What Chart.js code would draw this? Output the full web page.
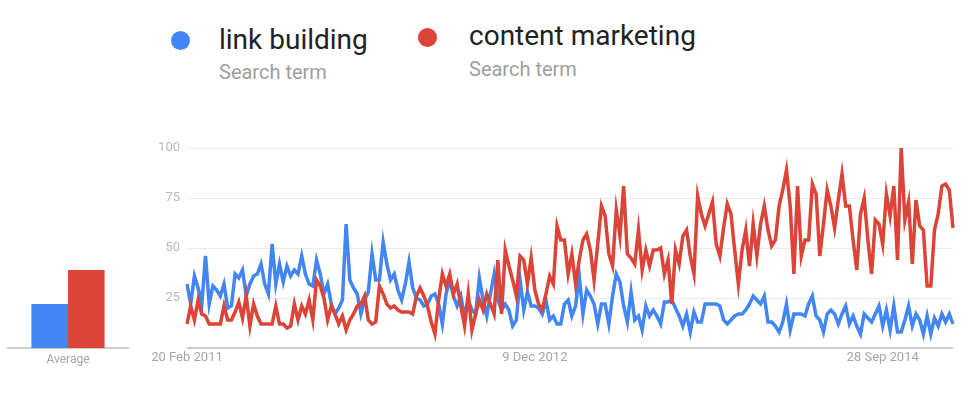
<!DOCTYPE html>
<html>
<head>
<meta charset="utf-8">
<script src="https://cdn.jsdelivr.net/npm/chart.js@4.4.0/dist/chart.umd.min.js"></script>
<style>
  body{margin:0;background:#fff;width:980px;height:396px;overflow:hidden;position:relative;font-family:Roboto,Arial,sans-serif}
  .dot{position:absolute;width:19px;height:19px;border-radius:50%}
  .term{position:absolute;font-size:28px;color:#222;white-space:nowrap;line-height:1}
  .sub{position:absolute;font-size:20px;color:#9e9e9e;white-space:nowrap;line-height:1}
  canvas{position:absolute}
</style>
</head>
<body>
<div class="dot" style="left:171px;top:31px;background:#4285f4"></div>
<div class="term" style="left:219px;top:26px">link building</div>
<div class="sub" style="left:219px;top:62px">Search term</div>
<div class="dot" style="left:418px;top:28px;background:#db4437"></div>
<div class="term" style="left:469px;top:22px">content marketing</div>
<div class="sub" style="left:469px;top:59px">Search term</div>

<canvas id="avg" width="140" height="240" style="left:0;top:130px"></canvas>
<canvas id="trend" width="815" height="240" style="left:140px;top:130px"></canvas>

<script>
// ----- Datos (semanal, 20 Feb 2011 en adelante) -----
const tickLabels = ['20 Feb 2011', '9 Dec 2012', '28 Sep 2014'];
const tickIndex = [0, 94, 188];
const yTicks = [0, 25, 50, 75, 100];

const linkBuilding = [
  32,22,36,30,22,46,22,31,29,26, 32,20,21,37,35,39,26,32,36,37,
  42,32,27,52,32,42,33,41,36,39, 37,46,37,32,31,44,37,27,32,22,
  17,20,24,62,34,30,27,17,24,28, 47,34,34,53,42,34,37,29,24,32,
  43,30,25,24,21,22,26,27,22,12, 27,34,26,21,26,16,24,19,17,35,
  24,16,27,37,24,19,22,19,11,14, 34,19,28,21,21,20,17,24,14,16,
  12,12,22,24,16,21,36,17,29,26, 22,12,22,22,12,26,37,33,21,13,
  28,14,16,9,21,16,19,16,12,23, 23,24,20,16,11,17,8,18,13,13,
  22,22,22,22,21,14,12,14,16,17, 17,19,22,26,24,22,26,13,13,11,
  8,13,22,9,17,17,17,16,22,26, 16,14,8,17,19,17,12,17,21,12,
  16,11,7,17,15,13,17,21,11,19, 9,21,8,8,14,21,11,17,14,7,
  16,7,15,11,17,13,17,12
];
const contentMarketing = [
  12,21,14,24,17,16,12,12,12,12, 21,14,14,18,23,15,26,11,22,16,
  12,12,12,12,21,12,12,10,11,22, 14,21,17,24,14,34,31,25,14,21,
  17,12,16,9,14,17,21,22,26,14, 12,13,31,27,22,20,21,19,18,18,
  18,17,26,30,26,21,13,7,24,37, 31,37,27,32,21,11,27,9,17,24,
  19,27,22,17,44,17,49,41,34,26, 46,44,32,45,29,22,19,27,36,32,
  61,54,54,37,47,32,44,54,57,49, 34,52,71,66,47,41,69,56,81,47,
  45,42,59,39,49,41,49,49,50,37, 44,22,49,42,56,59,46,37,76,67,
  61,67,73,52,46,60,72,67,49,32, 49,59,41,62,46,62,71,59,51,54,
  71,79,89,71,37,81,46,54,54,82, 77,46,62,79,71,60,74,87,71,71,
  54,39,67,75,54,37,64,62,52,77, 66,81,44,100,64,73,42,74,61,59,
  31,31,59,67,81,82,79,60
];
const weeks = linkBuilding.map((_, i) => i);

const averageLabels = ['Average'];
const avgLink = [22];
const avgContent = [39];

const blue = '#4285f4';
const red = '#db4437';
const tickColor = '#a6a6a6';

// ----- Gráfico principal -----
new Chart(document.getElementById('trend'), {
  type: 'line',
  data: {
    labels: weeks,
    datasets: [
      { label: 'link building', data: linkBuilding, borderColor: blue, backgroundColor: blue, borderWidth: 3.5, pointRadius: 0, tension: 0, order: 1 },
      { label: 'content marketing', data: contentMarketing, borderColor: red, backgroundColor: red, borderWidth: 3.5, pointRadius: 0, tension: 0, order: 0 }
    ]
  },
  options: {
    responsive: false,
    animation: false,
    layout: { padding: { top: 18, right: 2, left: 0, bottom: 0 } },
    plugins: { legend: { display: false }, tooltip: { enabled: false } },
    scales: {
      x: {
        grid: { display: false, drawTicks: false, tickLength: 0 },
        border: { display: false },
        ticks: {
          autoSkip: false, maxRotation: 0, minRotation: 0, padding: 2,
          color: tickColor, font: { family: 'Roboto', size: 13 },
          callback: (v, i) => { const k = tickIndex.indexOf(i); return k >= 0 ? tickLabels[k] : ''; }
        },
        afterFit: s => { s.height = 22; }
      },
      y: {
        min: 0, max: 100,
        afterBuildTicks: s => { s.ticks = yTicks.map(v => ({ value: v })); },
        ticks: { padding: 7, color: '#b8b8b8', font: { family: 'Roboto', size: 13 }, callback: v => v === 0 ? '' : v },
        grid: { color: c => c.tick.value === 0 ? '#cccccc' : '#ebebeb', lineWidth: c => c.tick.value === 0 ? 2 : 1, drawTicks: false },
        border: { display: false },
        afterFit: s => { s.width = 47; }
      }
    }
  }
});

// ----- Barras de promedio -----
new Chart(document.getElementById('avg'), {
  type: 'bar',
  data: {
    labels: averageLabels,
    datasets: [
      { data: avgLink, backgroundColor: blue, categoryPercentage: 0.61, barPercentage: 1 },
      { data: avgContent, backgroundColor: red, categoryPercentage: 0.61, barPercentage: 1 }
    ]
  },
  options: {
    responsive: false,
    animation: false,
    layout: { padding: { top: 18, right: 12, left: 8, bottom: 0 } },
    plugins: { legend: { display: false }, tooltip: { enabled: false } },
    scales: {
      x: {
        grid: { display: false, drawTicks: false, tickLength: 0 },
        border: { color: '#cccccc', width: 2 },
        ticks: { padding: 5, color: tickColor, font: { family: 'Roboto', size: 12 } },
        afterFit: s => { s.height = 22; }
      },
      y: { display: false, min: 0, max: 100 }
    }
  }
});
</script>
</body>
</html>
